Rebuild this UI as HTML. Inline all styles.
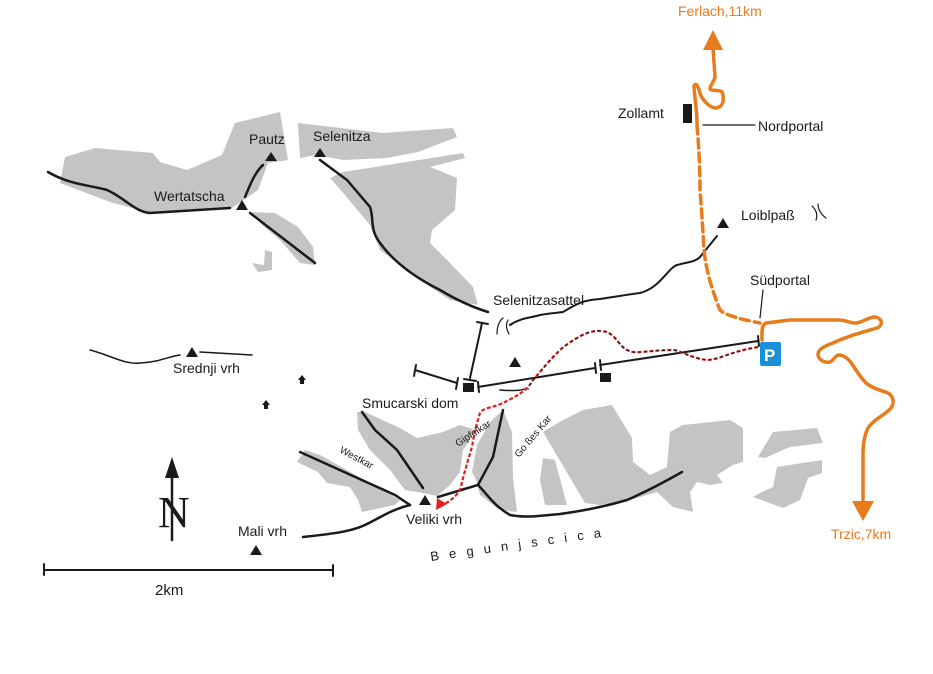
<!DOCTYPE html>
<html><head><meta charset="utf-8"><style>
html,body{margin:0;padding:0;background:#fff;}
svg{display:block;}
text{font-family:"Liberation Sans",sans-serif;fill:#1a1a1a;}
</style></head><body>
<svg width="933" height="674" viewBox="0 0 933 674" xmlns="http://www.w3.org/2000/svg">
<g fill="#c4c4c4" stroke="none">
<polygon points="60,183 65,157 95,148 153,153 160,162 187,170 222,155 235,123 280,112 288,160 268,163 258,190 232,208 150,213 110,202"/>
<polygon points="298,123 383,133 453,128 457,137 418,152 387,158 343,160 317,155 300,158"/>
<polygon points="343,172 463,153 465,158 430,167 457,178 455,210 432,230 430,243 450,263 473,287 478,305 450,300 420,280 380,250 370,225 345,195 330,178"/>
<polygon points="250,212 275,213 298,227 313,247 315,265 300,263 280,240 262,225"/>
<polygon points="265,250 272,252 272,270 258,272 252,263 264,265"/>
<polygon points="297,462 305,450 320,455 400,500 395,505 362,512 358,500 350,487 327,483 318,472"/>
<polygon points="357,412 365,412 400,428 417,438 443,432 460,425 475,430 470,440 463,450 460,472 450,485 437,496 423,493 405,490 390,470 370,450 358,430"/>
<polygon points="490,422 503,410 512,432 513,478 517,512 500,510 480,495 477,482 472,472 477,445"/>
<polygon points="543,432 563,420 583,410 612,405 632,438 633,462 650,475 667,467 670,432 683,425 730,420 743,428 743,462 733,465 717,475 723,483 710,485 697,482 690,492 693,512 673,507 657,492 630,500 600,505 585,503"/>
<polygon points="543,458 555,460 567,505 545,505 540,480"/>
<polygon points="758,457 773,432 817,428 823,443 790,447 765,458"/>
<polygon points="777,467 822,460 822,473 808,478 800,500 783,508 753,497 762,492 773,487"/>
</g>
<g fill="none" stroke="#1a1a1a" stroke-linecap="round">
<path d="M48,172 C70,185 90,185 107,190 C125,198 135,212 150,213 L230,208" stroke-width="2.5"/>
<path d="M245,197 C250,185 255,172 263,165" stroke-width="2.5"/>
<path d="M250,213 L315,263" stroke-width="2.5"/>
<path d="M320,160 L347,180 L370,207 C374,218 370,228 378,240 C390,258 410,275 440,290 C460,302 475,308 488,312" stroke-width="2.5"/>
<path d="M510,325 C520,318 530,318 540,315 C550,313 556,313 563,312 C575,305 582,300 600,299 C620,296 632,294 640,293 C660,288 668,268 677,265 C688,262 695,262 700,257 L717,236" stroke-width="2"/>
<path d="M90,350 C110,355 125,365 140,363 C160,362 170,356 180,355" stroke-width="1.5"/>
<path d="M200,352 L252,355" stroke-width="1.5"/>
<path d="M303,537 C330,534 350,532 365,525 C380,518 390,510 410,505" stroke-width="2.5"/>
<path d="M300,452 L395,495 L410,505" stroke-width="2.5"/>
<path d="M362,412 L375,430 L397,450 L423,488" stroke-width="2.5"/>
<path d="M438,497 L478,485 L493,457 L503,410" stroke-width="2.5"/>
<path d="M478,485 C488,495 493,505 510,515 C525,518 540,516 560,514 C590,510 610,505 627,500 C650,490 668,480 682,472" stroke-width="2.5"/>
<path d="M482,323 L470,378" stroke-width="2"/><path d="M477,322 L488,324" stroke-width="2"/><path d="M464,379 L476,381" stroke-width="2"/>
<path d="M415,370 L457,383" stroke-width="2"/><path d="M416,365 L414,376" stroke-width="2"/><path d="M458,378 L456,389" stroke-width="2"/>
<path d="M478,387 L595,368" stroke-width="2"/><path d="M478,382 L479,392" stroke-width="2"/><path d="M595,363 L596,373" stroke-width="2"/>
<path d="M600,365 L758,341" stroke-width="2"/><path d="M600,360 L601,370" stroke-width="2"/><path d="M758,336 L759,346" stroke-width="2"/>
<path d="M500,390 C512,391 522,391 527,388" stroke-width="1.5"/>
<path d="M503,318 C498,322 497,328 497,334" stroke-width="1.2"/><path d="M508,320 C505,325 507,330 509,334" stroke-width="1.2"/>
<path d="M812,206 C816,210 818,214 816,220" stroke-width="1.2"/><path d="M818,204 C818,210 822,215 826,218" stroke-width="1.2"/>
<path d="M703,125 L755,125" stroke-width="1.2"/>
<path d="M763,290 L760,318" stroke-width="1.2"/>
<path d="M44,570 L333,570" stroke-width="2"/><path d="M44,564 L44,575 M333,565 L333,576" stroke-width="2"/>
<path d="M172,470 L172,540" stroke-width="2.5"/>
</g>
<polygon points="172,457 165,478 179,478" fill="#1a1a1a"/>
<text x="158" y="527" style="font-family:'Liberation Serif',serif;font-size:44px;">N</text>
<g fill="#1a1a1a">
<polygon points="271,152 265,161 277,161"/><polygon points="320,148 314,157 326,157"/>
<polygon points="242,200 236,210 248,210"/><polygon points="723,218 717,228 729,228"/>
<polygon points="515,357 509,367 521,367"/><polygon points="192,347 186,357 198,357"/>
<polygon points="425,495 419,505 431,505"/><polygon points="256,545 250,555 262,555"/>
<rect x="463" y="383" width="11" height="9"/><rect x="600" y="373" width="11" height="9"/>
<rect x="683" y="104" width="9" height="19"/>
<path d="M302,375 L298,380 L300,380 L300,384 L304,384 L304,380 L306,380Z"/>
<path d="M266,400 L262,405 L264,405 L264,409 L268,409 L268,405 L270,405Z"/>
</g>
<path d="M758,347 L753,348 C730,352 718,360 707,360 C690,358 680,350 673,350 C655,350 640,353 633,352 C620,350 618,337 607,332 C600,330 590,330 577,338 C565,345 560,350 557,353 C545,365 538,375 533,380 C528,388 525,392 503,403 C495,407 482,408 480,413 C476,425 473,440 472,447 C468,460 465,470 460,490 C455,498 447,503 441,506" fill="none" stroke="#e02020" stroke-width="2.2" stroke-dasharray="4,2"/>
<path d="M758,347 L753,348 C730,352 718,360 707,360 C690,358 680,350 673,350 C655,350 640,353 633,352 C620,350 618,337 607,332 C600,330 590,330 577,338 C565,345 560,350 557,353 C545,365 538,375 533,380 C528,388 528,390 528,390" fill="none" stroke="#1a1a1a" stroke-width="1" stroke-dasharray="3,3"/>
<polygon points="436,510 437,498 447,504" fill="#e02020"/>
<g fill="none" stroke="#e87b1c" stroke-width="3.5" stroke-linecap="round" stroke-linejoin="round">
<path d="M713,48 L715,77 C714,82 710,85 710,89 C712,92 723,88 723,95 C724,103 722,107 716,108 C710,108 702,100 700,93 C698,86 696,82 694,86 C694,92 697,110 697,123"/>
<path d="M697,125 C699,150 700,167 700,190 C702,215 703,233 704,250 C706,270 712,290 720,310 C726,316 745,320 760,323" stroke-dasharray="9,5"/>
<path d="M762,340 L762,333 C762,327 763,325 766,323 L790,320 L840,320 C850,321 852,324 857,323 C865,321 869,317 875,317 C882,318 884,325 877,328 C860,333 845,337 833,343 C822,347 818,350 818,355 C819,361 826,363 830,362 C834,360 835,356 838,355 C843,355 848,358 852,364 C856,370 860,377 866,383 C872,388 880,390 888,393 C893,396 895,402 891,408 C884,416 875,418 868,428 C864,436 863,445 863,455 L863,502"/>
</g>
<polygon points="713,30 703,50 723,50" fill="#e87b1c"/>
<polygon points="863,521 852,501 874,501" fill="#e87b1c"/>
<rect x="760" y="342" width="21" height="24" rx="2" fill="#1a90d8"/>
<text x="764" y="361" style="font-size:17px;font-weight:bold;fill:#fff;">P</text>
<g style="font-size:14px;">
<text x="678" y="16" style="fill:#e87b1c;">Ferlach,11km</text>
<text x="618" y="118">Zollamt</text>
<text x="758" y="131">Nordportal</text>
<text x="741" y="220">Loiblpaß</text>
<text x="750" y="285">Südportal</text>
<text x="493" y="305">Selenitzasattel</text>
<text x="362" y="408">Smucarski dom</text>
<text x="406" y="524">Veliki vrh</text>
<text x="238" y="536">Mali vrh</text>
<text x="173" y="373">Srednji vrh</text>
<text x="155" y="595" style="font-size:15px;">2km</text>
<text x="831" y="539" style="fill:#e87b1c;">Trzic,7km</text>
<text x="249" y="144">Pautz</text>
<text x="313" y="141">Selenitza</text>
<text x="154" y="201">Wertatscha</text>
</g>
<text transform="translate(339,452) rotate(28)" style="font-size:10px;">Westkar</text>
<text transform="translate(458,447) rotate(-33)" style="font-size:10px;">Gipfelkar</text>
<text transform="translate(519,458) rotate(-50)" style="font-size:10px;">Go ßes Kar</text>
<text transform="translate(431,561) rotate(-8)" style="font-size:13px;letter-spacing:10.2px;">Begunjscica</text>
</svg>
</body></html>
